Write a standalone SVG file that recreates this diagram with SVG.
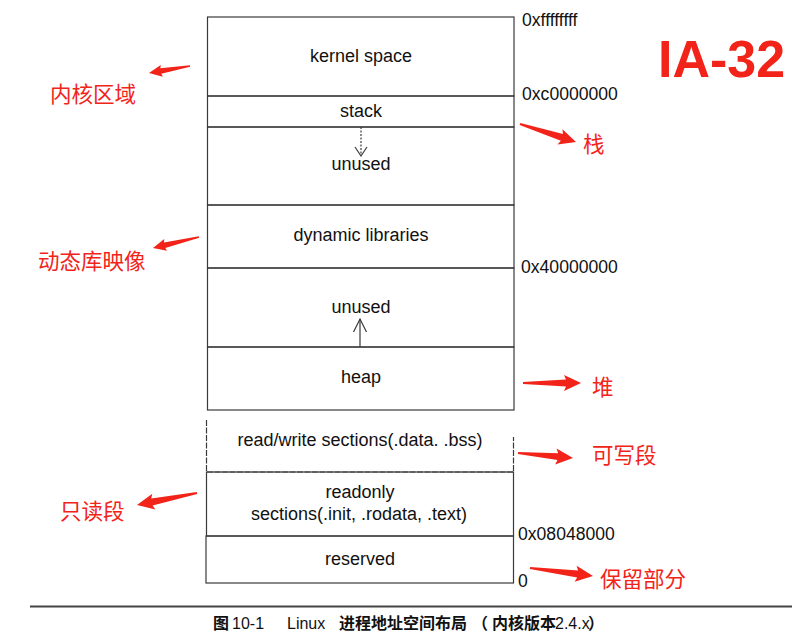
<svg xmlns="http://www.w3.org/2000/svg" width="800" height="638" viewBox="0 0 800 638">
<style>
.bx{fill:none;stroke:#3a3a3a;stroke-width:1.2}
.ln{stroke:#3a3a3a;stroke-width:1.2;fill:none}
.lt{font-family:"Liberation Sans",Arial,sans-serif;font-size:18px;fill:#111;text-anchor:middle}
.hx{font-family:"Liberation Sans",Arial,sans-serif;font-size:17.6px;fill:#111}
.cn{font-family:"Noto Sans CJK SC",sans-serif;font-size:21.5px;fill:#f2241a}
.ra{fill:#f2241a}
.cap{font-family:"Liberation Sans","Noto Sans CJK SC",sans-serif;font-size:16px;fill:#111}
.capc{font-family:"Noto Sans CJK SC",sans-serif;font-weight:bold}
</style>
<rect width="800" height="638" fill="#fff"/>
<g id="layout">
  <g id="kernel"><rect class="bx" x="207.5" y="17" width="306.5" height="79"/><text class="lt" x="361" y="62">kernel space</text></g>
  <g id="stack"><rect class="bx" x="207.5" y="96" width="306.5" height="31"/><text class="lt" x="361" y="117">stack</text></g>
  <g id="unused1"><rect class="bx" x="207.5" y="127" width="306.5" height="78"/><text class="lt" x="361" y="170">unused</text></g>
  <g id="dynlib"><rect class="bx" x="207.5" y="205" width="306.5" height="63"/><text class="lt" x="361" y="241">dynamic libraries</text></g>
  <g id="unused2"><rect class="bx" x="207.5" y="268" width="306.5" height="79"/><text class="lt" x="361" y="313">unused</text></g>
  <g id="heap"><rect class="bx" x="207.5" y="347" width="306.5" height="63"/><text class="lt" x="361" y="383">heap</text></g>
  <g id="rw"><path class="ln" d="M206.5,420 V472 H513.5 V437" stroke-dasharray="6,1.5"/><text class="lt" x="360" y="446">read/write sections(.data. .bss)</text></g>
  <g id="readonly"><rect class="bx" x="206.5" y="472" width="307" height="64"/><text class="lt" x="360" y="498">readonly</text><text class="lt" x="359" y="520">sections(.init, .rodata, .text)</text></g>
  <g id="reserved"><rect class="bx" x="206" y="536" width="307.5" height="47"/><text class="lt" x="360" y="565">reserved</text></g>
</g>
<g id="connectors">
  <path class="ln" d="M361,127 V155" stroke-dasharray="2,1.5" stroke-width="1"/>
  <path class="ln" d="M355,147 L361,156 L367,147" stroke-width="1"/>
  <path class="ln" d="M360,347 V319" stroke-width="1.1"/>
  <path class="ln" d="M353.5,332 L360,319 L366.5,332" stroke-width="1"/>
</g>
<g id="addresses">
  <text class="hx" x="522" y="26">0xffffffff</text>
  <text class="hx" x="522" y="100">0xc0000000</text>
  <text class="hx" x="521" y="273">0x40000000</text>
  <text class="hx" x="518" y="540">0x08048000</text>
  <text class="hx" x="518" y="587">0</text>
</g>
<text x="658" y="77" font-family="Liberation Sans,Arial,sans-serif" font-weight="bold" font-size="52" fill="#f2241a">IA-32</text>
<g id="annotations">
  <path class="ra" transform="translate(190,66) rotate(170.3)" d="M0,-0.8 L29.6,-2.8 L28.6,-6 L41.6,0 L28.6,6 L29.6,2.8 L0,0.8 Z"/>
  <path class="ra" transform="translate(199,237) rotate(166.6)" d="M0,-0.8 L35.3,-2.8 L34.3,-6 L47.3,0 L34.3,6 L35.3,2.8 L0,0.8 Z"/>
  <path class="ra" transform="translate(520,124) rotate(17.8)" d="M0,-1 L44,-3.5 L42,-8 L58.8,0 L42,8 L44,3.5 L0,1 Z"/>
  <path class="ra" transform="translate(523,383) rotate(0)" d="M0,-1 L43,-3.5 L41,-8 L58,0 L41,8 L43,3.5 L0,1 Z"/>
  <path class="ra" transform="translate(518,453) rotate(5.2)" d="M0,-1 L40,-3.5 L38,-8 L55.2,0 L38,8 L40,3.5 L0,1 Z"/>
  <path class="ra" transform="translate(530,568) rotate(7.2)" d="M0,-1 L48,-3.5 L46,-8 L63.5,0 L46,8 L48,3.5 L0,1 Z"/>
  <path class="ra" transform="translate(197,493) rotate(168.7)" d="M0,-1 L46,-3.5 L44,-8 L61.2,0 L44,8 L46,3.5 L0,1 Z"/>
  <text class="cn" x="50" y="101.5">内核区域</text>
  <text class="cn" x="38" y="268.5">动态库映像</text>
  <text class="cn" x="583" y="151.5">栈</text>
  <text class="cn" x="592" y="395">堆</text>
  <text class="cn" x="592" y="462.5">可写段</text>
  <text class="cn" x="600" y="587">保留部分</text>
  <text class="cn" x="60" y="518.5">只读段</text>
</g>
<g id="caption">
  <line x1="30" y1="606.5" x2="792" y2="606.5" stroke="#444" stroke-width="2"/>
  <text class="cap" y="629"><tspan class="capc" x="213">图</tspan><tspan x="232">10-1</tspan><tspan x="287">Linux</tspan><tspan class="capc" x="339">进程地址空间布局</tspan><tspan class="capc" x="472">（</tspan><tspan class="capc" x="492">内核版本</tspan><tspan x="555">2.4.x</tspan><tspan class="capc" x="588">）</tspan></text>
</g>
</svg>
